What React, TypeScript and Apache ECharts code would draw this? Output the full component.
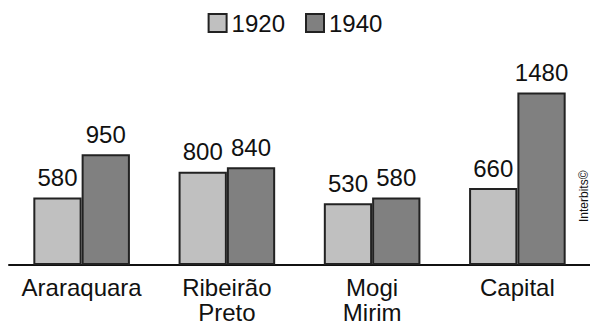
import React, { useEffect, useRef } from "react";
import * as echarts from "echarts";

const categories = ["Araraquara", "Ribeirão\nPreto", "Mogi\nMirim", "Capital"];
const values1920 = [580, 800, 530, 660];
const values1940 = [950, 840, 580, 1480];
const seriesNames = ["1920", "1940"];

export default function App() {
  const ref = useRef<HTMLDivElement>(null);
  useEffect(() => {
    if (!ref.current) return;
    const chart = echarts.init(ref.current, null, { renderer: "svg" });
    const font = "'Liberation Sans', Arial, sans-serif";
    const label = {
      show: true,
      position: "top" as const,
      distance: 8,
      fontSize: 24,
      color: "#111",
      fontFamily: font,
    };
    chart.setOption({
      animation: false,
      backgroundColor: "#fff",
      legend: {
        top: 6,
        left: "center",
        itemWidth: 18,
        itemHeight: 18,
        itemGap: 20,
        icon: "rect",
        textStyle: { fontSize: 24, color: "#111", fontFamily: font },
        data: seriesNames,
      },
      grid: { left: 9, width: 585, top: 32, bottom: 59, containLabel: false },
      xAxis: {
        type: "category",
        data: categories,
        axisLine: { lineStyle: { color: "#111", width: 2 } },
        axisTick: { show: false },
        axisLabel: {
          fontSize: 24,
          color: "#111",
          fontFamily: font,
          lineHeight: 25,
          margin: 10,
          interval: 0,
        },
      },
      yAxis: {
        type: "value",
        min: 0,
        max: 2000,
        show: false,
        splitLine: { show: false },
      },
      series: [
        {
          name: seriesNames[0],
          type: "bar",
          data: values1920,
          barGap: "0%",
          barCategoryGap: "33.5%",
          itemStyle: { color: "#c0c0c0", borderColor: "#222", borderWidth: 2 },
          label,
        },
        {
          name: seriesNames[1],
          type: "bar",
          data: values1940,
          barGap: "0%",
          barCategoryGap: "33.5%",
          itemStyle: { color: "#808080", borderColor: "#222", borderWidth: 2 },
          label,
        },
      ],
      graphic: [
        {
          type: "text",
          x: 590,
          y: 222,
          rotation: Math.PI / 2,
          style: {
            text: "Interbits©",
            fontSize: 12,
            fill: "#111",
            fontFamily: font,
            verticalAlign: "bottom",
          },
        },
      ],
    });
    return () => chart.dispose();
  }, []);
  return (
    <div
      ref={ref}
      style={{ position: "fixed", left: 0, top: 0, width: 590, height: 325 }}
    />
  );
}
